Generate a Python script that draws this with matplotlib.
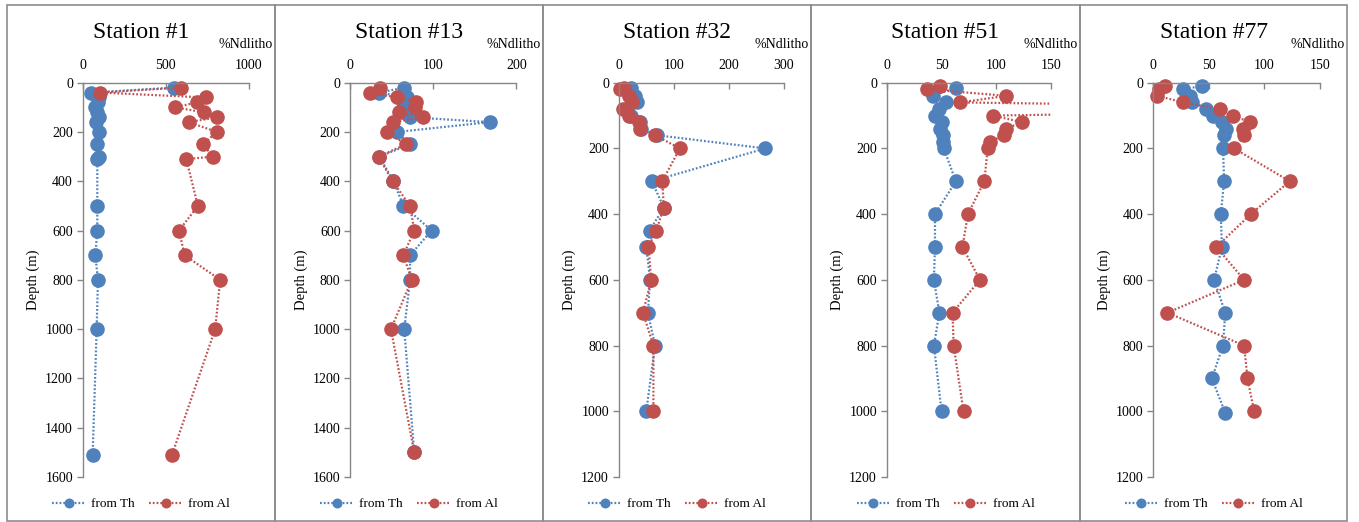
import matplotlib.pyplot as plt
from matplotlib.patches import Rectangle

plt.rcParams['font.family'] = ['Liberation Serif', 'DejaVu Serif']

# Station #1
st1_th_depth = [20, 40, 60, 80, 100, 120, 140, 160, 200, 250, 300, 310, 500, 600, 700, 800, 1000, 1510]
st1_th = [550, 48, 100, 95, 74, 88, 100, 82, 100, 84, 100, 88, 88, 88, 76, 92, 84, 60]
st1_al_depth = [20, 40, 60, 80, 100, 120, 140, 160, 200, 250, 300, 310, 500, 600, 700, 800, 1000, 1510]
st1_al = [590, 104, 742, 688, 556, 728, 812, 640, 808, 724, 784, 624, 694, 580, 614, 828, 798, 538]

# Station #13
st13_th_depth = [20, 40, 60, 80, 100, 120, 140, 160, 200, 250, 300, 400, 500, 600, 700, 800, 1000, 1500]
st13_th = [65, 35, 68, 64, 66, 62, 72, 168, 56, 72, 35, 52, 64, 98, 72, 72, 65, 77]
st13_al_depth = [20, 40, 60, 80, 100, 120, 140, 160, 200, 250, 300, 400, 500, 600, 700, 800, 1000, 1500]
st13_al = [36, 24, 56, 79, 78, 59, 87, 52, 44, 67, 34, 51, 72, 77, 64, 74, 49, 77]

# Station #32
st32_th_depth = [15, 20, 40, 60, 80, 100, 120, 140, 160, 200, 300, 380, 450, 500, 600, 700, 800, 1000]
st32_th = [22, 10, 30, 33, 15, 22, 38, 40, 70, 266, 60, 82, 56, 50, 57, 53, 66, 50]
st32_al_depth = [15, 20, 40, 60, 80, 100, 120, 140, 160, 200, 300, 380, 450, 500, 600, 700, 800, 1000]
st32_al = [10, 3, 18, 24, 7, 18, 37, 38, 66, 111, 79, 82, 68, 54, 59, 44, 63, 63]

# Station #51
st51_th_depth = [15, 40, 60, 80, 100, 120, 140, 160, 180, 200, 300, 400, 500, 600, 700, 800, 1000]
st51_th = [63, 42, 54, 48, 44, 50, 49, 51, 51, 52, 63, 44, 44, 43, 48, 43, 50]
st51_al_depth = [10, 20, 40, 60, 80, 100, 120, 140, 160, 180, 200, 300, 400, 500, 600, 700, 800, 1000]
st51_al = [49, 37, 109, 67, 500, 97, 123, 109, 107, 94, 92, 89, 74, 69, 85, 60, 61, 70]

# Station #77
st77_th_depth = [10, 20, 40, 60, 80, 100, 120, 140, 160, 200, 300, 400, 500, 600, 700, 800, 900, 1005]
st77_th = [44, 27, 33, 35, 48, 54, 62, 66, 64, 63, 64, 61, 62, 55, 65, 63, 53, 65]
st77_al_depth = [10, 20, 40, 60, 80, 100, 120, 140, 160, 200, 300, 400, 500, 600, 700, 800, 900, 1000]
st77_al = [11, 5, 4, 27, 60, 72, 87, 81, 82, 73, 123, 88, 57, 82, 13, 82, 85, 91]

titles = ["Station #1", "Station #13", "Station #32", "Station #51", "Station #77"]
th_data = [(st1_th, st1_th_depth), (st13_th, st13_th_depth), (st32_th, st32_th_depth),
           (st51_th, st51_th_depth), (st77_th, st77_th_depth)]
al_data = [(st1_al, st1_al_depth), (st13_al, st13_al_depth), (st32_al, st32_al_depth),
           (st51_al, st51_al_depth), (st77_al, st77_al_depth)]
x_max = [1000, 200, 300, 150, 150]
x_step = [500, 100, 100, 50, 50]
y_max = [1600, 1600, 1200, 1200, 1200]

# layout in pixels
W, H = 1359, 522
panel_x = [(7, 275), (275, 543), (543, 811), (811, 1080), (1080, 1347)]
axes_x = [(82.7, 248.7), (350.3, 516.3), (618.7, 784.0), (886.7, 1051.3), (1153.0, 1319.7)]
ax_top, ax_bot = 82.7, 477.0

blue = '#4F81BD'
red = '#C0504D'
gray = '#868686'
dots = (0, (0.8, 0.9))

fig = plt.figure(figsize=(W / 100, H / 100), dpi=100)

for i in range(5):
    px0, px1 = panel_x[i]
    fig.patches.append(Rectangle((px0 / W, 1 - 521 / H), (px1 - px0) / W, (521 - 5) / H,
                                 transform=fig.transFigure, fill=False,
                                 edgecolor='#8c8c8c', linewidth=1.2))

    x0, x1 = axes_x[i]
    ax = fig.add_axes([x0 / W, 1 - ax_bot / H, (x1 - x0) / W, (ax_bot - ax_top) / H])
    ax.patch.set_alpha(0)

    # let markers spill over the axis lines, but cut lines at the right edge
    clip = Rectangle((-0.12, -0.04), 1.12, 1.08, transform=ax.transAxes)
    th, th_d = th_data[i]
    al, al_d = al_data[i]
    l1, = ax.plot(th, th_d, linestyle=dots, linewidth=1.6, color=blue,
                  marker='o', markersize=9.5, markeredgecolor=blue, label='from Th')
    l2, = ax.plot(al, al_d, linestyle=dots, linewidth=1.6, color=red,
                  marker='o', markersize=9.5, markeredgecolor=red, label='from Al')
    for ln in (l1, l2):
        ln.set_clip_path(clip)

    ax.set_xlim(0, x_max[i])
    ax.set_ylim(y_max[i], 0)
    ax.set_xticks(range(0, x_max[i] + 1, x_step[i]))
    ax.set_yticks(range(0, y_max[i] + 1, 200))
    ax.xaxis.tick_top()
    for s in ('right', 'bottom'):
        ax.spines[s].set_visible(False)
    for s in ('left', 'top'):
        ax.spines[s].set_color(gray)
        ax.spines[s].set_linewidth(1.0)
    ax.tick_params(axis='x', direction='in', length=4, width=1, color=gray,
                   pad=8, labelsize=10)
    ax.tick_params(axis='y', direction='out', length=4, width=1, color=gray,
                   pad=3, labelsize=10)

    ax.set_ylabel("Depth (m)", fontsize=10.5, va='center')
    ax.yaxis.set_label_coords(-49 / (x1 - x0), 0.5)

    cx = (px0 + px1) / 2
    fig.text(cx / W, 1 - 38 / H, titles[i], ha='center', va='baseline', fontsize=17)
    fig.text((px1 - 2) / W, 1 - 48 / H, "%Ndlitho", ha='right', va='baseline', fontsize=10)

    fig.legend(handles=[l1, l2], loc='center', bbox_to_anchor=(cx / W, 1 - 504 / H),
               ncol=2, frameon=False, fontsize=9.5, markerscale=0.65, numpoints=1,
               handlelength=2.5, handletextpad=0.45, columnspacing=1.1,
               borderpad=0, borderaxespad=0)

fig.savefig("out.png", dpi=100)
